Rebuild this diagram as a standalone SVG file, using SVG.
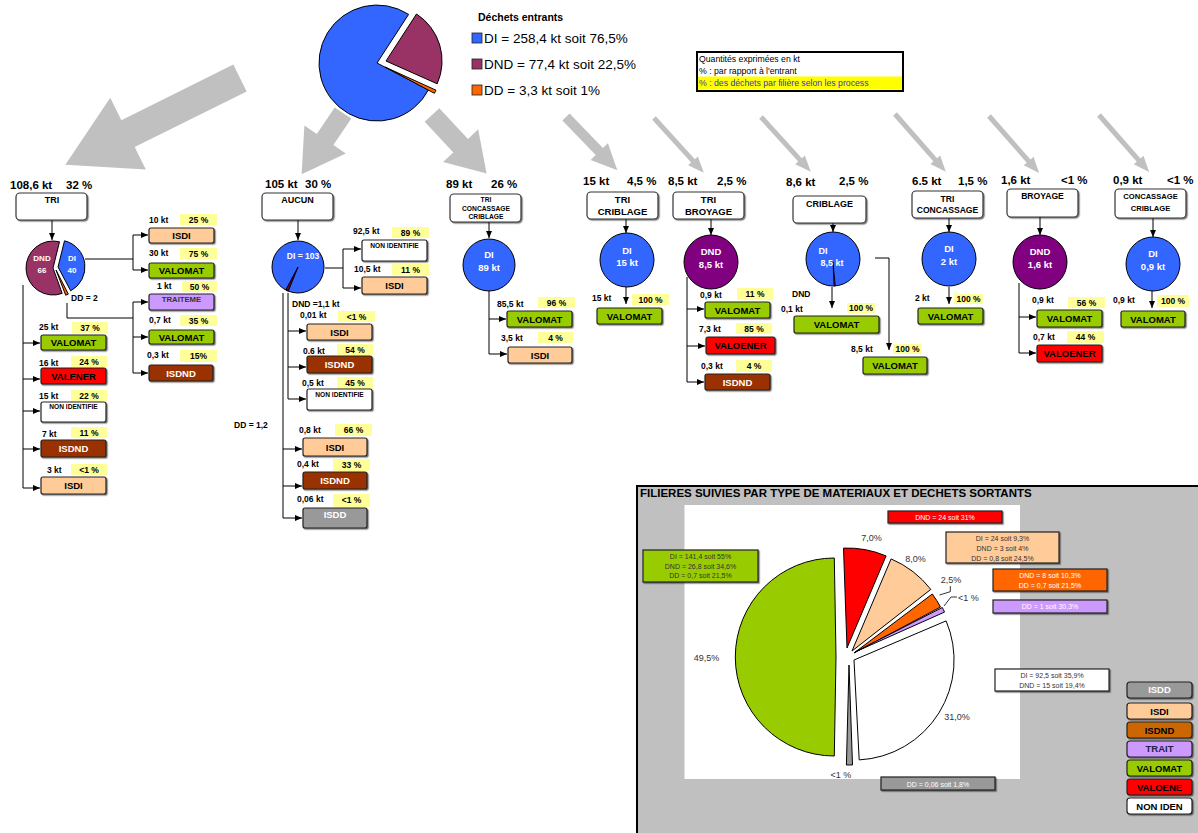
<svg xmlns="http://www.w3.org/2000/svg" width="1198" height="833" viewBox="0 0 1198 833">
<defs>
<filter id="sh" x="-10%" y="-10%" width="130%" height="150%"><feDropShadow dx="1.2" dy="1.2" stdDeviation="0.5" flood-color="#000" flood-opacity="0.5"/></filter>
<marker id="ah" markerWidth="7" markerHeight="6" refX="7" refY="3" orient="auto" markerUnits="userSpaceOnUse"><path d="M0,0 L7,3 L0,6 Z" fill="#000"/></marker>
<style>
text{font-family:"Liberation Sans",Arial,sans-serif}
.hd{font-size:11.5px;font-weight:bold}
.q{font-size:8.5px;font-weight:bold}
.pc{font-size:8.5px;font-weight:bold;text-anchor:middle}
.y{fill:#ffff99}
.bx{stroke:#222;stroke-width:1.2;filter:url(#sh)}
.pb{fill:#fff;stroke:#333;stroke-width:1.2;filter:url(#sh)}
.bt{font-size:9.5px;font-weight:bold;text-anchor:middle}
.st{font-size:6.6px;font-weight:bold;text-anchor:middle}
.w{fill:#fff}
.isdi{fill:#ffcc99}.valomat{fill:#99cc00}.valener{fill:#ff0000}.isdnd{fill:#993300}.trait{fill:#cc99ff}.isdd{fill:#999999}.nonid{fill:#ffffff}
.ct{font-weight:bold;text-anchor:middle;fill:#fff;font-size:9.5px}
.cn{stroke:#000;stroke-width:1;fill:none}
.ga{fill:#c0c0c0}
.sl{stroke:#000;stroke-width:1}
.cl{font-size:9px;fill:#333;text-anchor:middle}
.dl{font-size:7px;text-anchor:middle}
.lg{font-size:9.5px;font-weight:bold;text-anchor:middle}
</style>
</defs>
<rect width="1198" height="833" fill="#fff"/>

<!-- Top pie -->
<g id="pie-entrants">
<path d="M377,63 L428.4,89.9 A58,58 0 1 1 408.6,14.4 Z" fill="#3366ff" class="sl"/>
<path d="M386,61 L416.5,14 A56,56 0 0 1 437.2,83.8 Z" fill="#993366" class="sl"/>
<path d="M385,67 L436,90.2 A56,56 0 0 1 434.4,93.3 Z" fill="#ff6600" class="sl"/>
</g>
<g id="legend-entrants">
<text x="478" y="21" style="font-size:10.5px;font-weight:bold">Déchets entrants</text>
<rect x="472" y="33" width="10" height="10" fill="#3366ff" stroke="#222" stroke-width="0.8"/>
<text x="484" y="43" style="font-size:13.5px">DI = 258,4 kt soit 76,5%</text>
<rect x="472" y="59" width="10" height="10" fill="#993366" stroke="#222" stroke-width="0.8"/>
<text x="484" y="69" style="font-size:13.5px">DND = 77,4 kt soit 22,5%</text>
<rect x="472" y="85" width="10" height="10" fill="#ff6600" stroke="#222" stroke-width="0.8"/>
<text x="484" y="95" style="font-size:13.5px">DD = 3,3 kt soit 1%</text>
</g>
<g id="legend-units">
<rect x="697" y="52" width="206" height="39" fill="#fff" stroke="#000" stroke-width="2"/>
<rect x="698" y="76.5" width="204" height="13" fill="#ffff00"/>
<text x="699" y="62" style="font-size:8.7px">Quantités exprimées en kt</text>
<text x="699" y="74" style="font-size:8.7px">% : par rapport à l'entrant</text>
<text x="699" y="86" style="font-size:8.7px;fill:#3333cc">% : des déchets par filière selon les process</text>
</g>

<!-- Connectors -->
<g id="connectors">
<path class="ga" transform="translate(240,78) rotate(153.6)" d="M0,-15H125V-40L195,0L125,40V15H0Z"/>
<path class="ga" transform="translate(343,113) rotate(124)" d="M0,-10H32V-25L74,0L32,25V10H0Z"/>
<path class="ga" transform="translate(432,115) rotate(47)" d="M0,-10H42V-24L80,0L42,24V10H0Z"/>
<path class="ga" transform="translate(566,117) rotate(46.1)" d="M0,-5H48V-12L74,0L48,12V5H0Z"/>
<path class="ga" transform="translate(654,118) rotate(47.7)" d="M0,-2.5H58V-6.5L74,0L58,6.5V2.5H0Z"/>
<path class="ga" transform="translate(761,117) rotate(47.7)" d="M0,-2.5H58V-6.5L74,0L58,6.5V2.5H0Z"/>
<path class="ga" transform="translate(895,114) rotate(48.7)" d="M0,-2.5H61V-6.5L77,0L61,6.5V2.5H0Z"/>
<path class="ga" transform="translate(989,116) rotate(48.7)" d="M0,-2.5H60V-6.5L76,0L60,6.5V2.5H0Z"/>
<path class="ga" transform="translate(1099,115) rotate(48.7)" d="M0,-2.5H60V-6.5L76,0L60,6.5V2.5H0Z"/>

<!-- TRI -->
<path class="cn" d="M52,220 V240" marker-end="url(#ah)"/>
<path class="cn" d="M85,259 H133"/>
<path class="cn" d="M133,259 V235 H148" marker-end="url(#ah)"/>
<path class="cn" d="M133,259 V270 H148" marker-end="url(#ah)"/>
<path class="cn" d="M67,303 V318 H133"/>
<path class="cn" d="M133,318 V302 H148" marker-end="url(#ah)"/>
<path class="cn" d="M133,318 V337 H148" marker-end="url(#ah)"/>
<path class="cn" d="M133,337 V373 H148" marker-end="url(#ah)"/>
<path class="cn" d="M23,285 V343 H40" marker-end="url(#ah)"/>
<path class="cn" d="M23,343 V379 H40" marker-end="url(#ah)"/>
<path class="cn" d="M23,379 V411 H40" marker-end="url(#ah)"/>
<path class="cn" d="M23,411 V449 H40" marker-end="url(#ah)"/>
<path class="cn" d="M23,449 V488 H40" marker-end="url(#ah)"/>
<!-- AUCUN -->
<path class="cn" d="M298,220 V240" marker-end="url(#ah)"/>
<path class="cn" d="M325,268 H343"/>
<path class="cn" d="M343,268 V249 H361" marker-end="url(#ah)"/>
<path class="cn" d="M343,268 V288 H361" marker-end="url(#ah)"/>
<path class="cn" d="M288,293 V331 H306" marker-end="url(#ah)"/>
<path class="cn" d="M288,331 V367 H306" marker-end="url(#ah)"/>
<path class="cn" d="M288,367 V399 H306" marker-end="url(#ah)"/>
<path class="cn" d="M283,293 V449 H302" marker-end="url(#ah)"/>
<path class="cn" d="M283,449 V486 H302" marker-end="url(#ah)"/>
<path class="cn" d="M283,486 V518 H302" marker-end="url(#ah)"/>
<!-- TRI CONCASSAGE CRIBLAGE -->
<path class="cn" d="M489,222 V238" marker-end="url(#ah)"/>
<path class="cn" d="M489,291 V319 H506" marker-end="url(#ah)"/>
<path class="cn" d="M489,319 V354 H507" marker-end="url(#ah)"/>
<!-- TRI CRIBLAGE -->
<path class="cn" d="M626,219 V233" marker-end="url(#ah)"/>
<path class="cn" d="M626,287 V304" marker-end="url(#ah)"/>
<!-- TRI BROYAGE -->
<path class="cn" d="M711,219 V235" marker-end="url(#ah)"/>
<path class="cn" d="M687,277 V309 H704" marker-end="url(#ah)"/>
<path class="cn" d="M687,309 V346 H705" marker-end="url(#ah)"/>
<path class="cn" d="M687,346 V382 H704" marker-end="url(#ah)"/>
<!-- CRIBLAGE -->
<path class="cn" d="M833,223 V232" marker-end="url(#ah)"/>
<path class="cn" d="M832,287 V308" marker-end="url(#ah)"/>
<path class="cn" d="M875,258 H889 V350" marker-end="url(#ah)"/>
<!-- TRI CONCASSAGE -->
<path class="cn" d="M949,218 V232" marker-end="url(#ah)"/>
<path class="cn" d="M949,287 V304" marker-end="url(#ah)"/>
<!-- BROYAGE -->
<path class="cn" d="M1040,217 V235" marker-end="url(#ah)"/>
<path class="cn" d="M1019,283 V317 H1036" marker-end="url(#ah)"/>
<path class="cn" d="M1019,317 V353 H1036" marker-end="url(#ah)"/>
<!-- CONCASSAGE CRIBLAGE -->
<path class="cn" d="M1153,218 V237" marker-end="url(#ah)"/>
<path class="cn" d="M1152,291 V308" marker-end="url(#ah)"/>
</g>

<!-- TRI section -->
<g id="p-tri">
<text class="hd" x="10" y="189">108,6 kt</text><text class="hd" x="66" y="189">32 %</text>
<rect class="pb" x="16" y="193" width="71" height="27" rx="4"/>
<text x="52" y="203" style="font-size:9px;font-weight:bold;text-anchor:middle">TRI</text>
</g>
<g id="pie-tri">
<path d="M53,268 L62.2,293.4 A27,27 0 1 1 59.5,241.8 Z" fill="#993366" class="sl"/>
<path d="M58,267 L64.5,240.8 A27,27 0 0 1 70.7,290.8 Z" fill="#3366ff" class="sl"/>
<path d="M56,270 L68.3,294.1 A27,27 0 0 1 65.7,295.2 Z" fill="#ff6600" class="sl"/>
<text class="ct" x="42" y="261" style="font-size:8px">DND</text>
<text class="ct" x="42" y="273" style="font-size:8px">66</text>
<text class="ct" x="72" y="261" style="font-size:8px">DI</text>
<text class="ct" x="72" y="273" style="font-size:8px">40</text>
<text class="q" x="71" y="301">DD = 2</text>
</g>
<g id="tri-isdi1"><text class="q" x="149" y="223">10 kt</text><rect class="y" x="180" y="214" width="37" height="11"/><text class="pc" x="198.5" y="223">25 %</text><rect class="bx isdi" x="149" y="228" width="65" height="15" rx="2"/><text class="bt" x="181.5" y="239">ISDI</text></g>
<g id="tri-valomat1"><text class="q" x="149" y="256">30 kt</text><rect class="y" x="180" y="248" width="37" height="11"/><text class="pc" x="198.5" y="257">75 %</text><rect class="bx valomat" x="149" y="263" width="65" height="15" rx="2"/><text class="bt" x="181.5" y="274">VALOMAT</text></g>
<g id="tri-traiteme"><text class="q" x="157" y="289">1 kt</text><rect class="y" x="182" y="281" width="35" height="11"/><text class="pc" x="199.5" y="290">50 %</text><rect class="bx trait" x="149" y="294" width="65" height="16" rx="2"/><text x="181.5" y="302" style="font-size:7.7px;font-weight:bold;text-anchor:middle;fill:#333">TRAITEME</text></g>
<g id="tri-valomat2"><text class="q" x="149" y="323">0,7 kt</text><rect class="y" x="180" y="315" width="37" height="11"/><text class="pc" x="198.5" y="324">35 %</text><rect class="bx valomat" x="149" y="330" width="65" height="14" rx="2"/><text class="bt" x="181.5" y="341">VALOMAT</text></g>
<g id="tri-isdnd1"><text class="q" x="147" y="358">0,3 kt</text><rect class="y" x="180" y="350" width="37" height="12"/><text class="pc" x="198.5" y="359">15%</text><rect class="bx isdnd" x="149" y="365" width="64" height="16" rx="2"/><text class="bt w" x="181" y="377">ISDND</text></g>
<g id="tri-valomat3"><text class="q" x="39" y="330">25 kt</text><rect class="y" x="72" y="322" width="36" height="11"/><text class="pc" x="90" y="331">37 %</text><rect class="bx valomat" x="41" y="335" width="65" height="15" rx="2"/><text class="bt" x="73.5" y="346">VALOMAT</text></g>
<g id="tri-valener"><text class="q" x="39" y="366">16 kt</text><rect class="y" x="71" y="356" width="36" height="11"/><text class="pc" x="89" y="365">24 %</text><rect class="bx valener" x="41" y="368" width="65" height="16" rx="2"/><text class="bt" x="73.5" y="380">VALENER</text></g>
<g id="tri-nonid"><text class="q" x="39" y="399">15 kt</text><rect class="y" x="71" y="390" width="36" height="11"/><text class="pc" x="89" y="399">22 %</text><rect class="bx nonid" x="41" y="402" width="65" height="20" rx="2"/><text class="st" x="73.5" y="409">NON IDENTIFIE</text></g>
<g id="tri-isdnd2"><text class="q" x="42" y="437">7 kt</text><rect class="y" x="71" y="427" width="36" height="11"/><text class="pc" x="89" y="436">11 %</text><rect class="bx isdnd" x="41" y="440" width="65" height="17" rx="2"/><text class="bt w" x="73.5" y="452">ISDND</text></g>
<g id="tri-isdi2"><text class="q" x="47" y="473">3 kt</text><rect class="y" x="71" y="464" width="36" height="11"/><text class="pc" x="89" y="473">&lt;1 %</text><rect class="bx isdi" x="41" y="477" width="65" height="17" rx="2"/><text class="bt" x="73.5" y="489">ISDI</text></g>

<!-- AUCUN section -->
<g id="p-aucun">
<text class="hd" x="265" y="188">105 kt</text><text class="hd" x="305" y="188">30 %</text>
<rect class="pb" x="262" y="193" width="71" height="27" rx="4"/>
<text x="297.5" y="203" style="font-size:9px;font-weight:bold;text-anchor:middle">AUCUN</text>
</g>
<g id="pie-aucun">
<circle cx="298" cy="267" r="26" fill="#3366ff" class="sl"/>
<path d="M298,267 L288.3,291.1 A26,26 0 0 1 285.8,290 Z" fill="#660033" class="sl" stroke-width="0.8"/>
<text class="ct" x="303" y="259" style="font-size:8.5px">DI = 103</text>
</g>
<g id="auc-nonid1"><text class="q" x="353" y="234">92,5 kt</text><rect class="y" x="392" y="227" width="37" height="11"/><text class="pc" x="410.5" y="236">89 %</text><rect class="bx nonid" x="362" y="240" width="65" height="21" rx="2"/><text class="st" x="394.5" y="248">NON IDENTIFIE</text></g>
<g id="auc-isdi1"><text class="q" x="354" y="272">10,5 kt</text><rect class="y" x="392" y="264" width="37" height="11"/><text class="pc" x="410.5" y="273">11 %</text><rect class="bx isdi" x="362" y="277" width="65" height="17" rx="2"/><text class="bt" x="394.5" y="289">ISDI</text></g>
<g id="auc-dnd"><text class="q" x="292" y="307">DND =1,1 kt</text></g>
<g id="auc-isdi2"><text class="q" x="300" y="318">0,01 kt</text><rect class="y" x="338" y="311" width="37" height="11"/><text class="pc" x="356.5" y="320">&lt;1 %</text><rect class="bx isdi" x="307" y="324" width="65" height="16" rx="2"/><text class="bt" x="339.5" y="336">ISDI</text></g>
<g id="auc-isdnd1"><text class="q" x="303" y="354">0.6 kt</text><rect class="y" x="337" y="344" width="36" height="11"/><text class="pc" x="355" y="353">54 %</text><rect class="bx isdnd" x="307" y="356" width="65" height="17" rx="2"/><text class="bt w" x="339.5" y="368">ISDND</text></g>
<g id="auc-nonid2"><text class="q" x="302" y="386">0,5 kt</text><rect class="y" x="337" y="377" width="36" height="12"/><text class="pc" x="355" y="386">45 %</text><rect class="bx nonid" x="307" y="389" width="65" height="21" rx="2"/><text class="st" x="339.5" y="397">NON IDENTIFIE</text></g>
<g id="auc-dd"><text class="q" x="234" y="428">DD = 1,2</text></g>
<g id="auc-isdi3"><text class="q" x="299" y="433">0,8 kt</text><rect class="y" x="335" y="424" width="37" height="12"/><text class="pc" x="353.5" y="433">66 %</text><rect class="bx isdi" x="303" y="438" width="64" height="18" rx="2"/><text class="bt" x="335" y="451">ISDI</text></g>
<g id="auc-isdnd2"><text class="q" x="297" y="467">0,4 kt</text><rect class="y" x="333" y="459" width="37" height="12"/><text class="pc" x="351.5" y="468">33 %</text><rect class="bx isdnd" x="303" y="472" width="64" height="17" rx="2"/><text class="bt w" x="335" y="484">ISDND</text></g>
<g id="auc-isdd"><text class="q" x="297" y="502">0,06 kt</text><rect class="y" x="333" y="494" width="37" height="13"/><text class="pc" x="351.5" y="503">&lt;1 %</text><rect class="bx isdd" x="303" y="508" width="64" height="20" rx="2"/><text class="bt w" x="335" y="518">ISDD</text></g>

<!-- TRI CONCASSAGE CRIBLAGE -->
<g id="p-tcc">
<text class="hd" x="446" y="188">89 kt</text><text class="hd" x="491" y="188">26 %</text>
<rect class="pb" x="450" y="194" width="71" height="28" rx="4"/>
<text x="486" y="202" style="font-size:6.7px;font-weight:bold;text-anchor:middle">TRI</text>
<text x="486" y="210.5" style="font-size:6.7px;font-weight:bold;text-anchor:middle">CONCASSAGE</text>
<text x="486" y="219" style="font-size:6.7px;font-weight:bold;text-anchor:middle">CRIBLAGE</text>
</g>
<g id="c-tcc"><circle cx="489" cy="265" r="26" fill="#3366ff" class="sl"/><text class="ct" x="489" y="258">DI</text><text class="ct" x="489" y="271">89 kt</text></g>
<g id="tcc-valomat"><text class="q" x="497" y="307">85,5 kt</text><rect class="y" x="538" y="297" width="37" height="11"/><text class="pc" x="556.5" y="306">96 %</text><rect class="bx valomat" x="507" y="311" width="65" height="16" rx="2"/><text class="bt" x="539.5" y="323">VALOMAT</text></g>
<g id="tcc-isdi"><text class="q" x="501" y="341">3,5 kt</text><rect class="y" x="538" y="332" width="35" height="11"/><text class="pc" x="555.5" y="341">4 %</text><rect class="bx isdi" x="508" y="347" width="64" height="16" rx="2"/><text class="bt" x="540" y="359">ISDI</text></g>

<!-- TRI CRIBLAGE -->
<g id="p-tcrib">
<text class="hd" x="583" y="185">15 kt</text><text class="hd" x="627" y="185">4,5 %</text>
<rect class="pb" x="587" y="192" width="71" height="27" rx="4"/>
<text x="622.5" y="203" style="font-size:9.5px;font-weight:bold;text-anchor:middle">TRI</text>
<text x="622.5" y="215" style="font-size:9.5px;font-weight:bold;text-anchor:middle">CRIBLAGE</text>
</g>
<g id="c-tcrib"><circle cx="627" cy="260" r="27" fill="#3366ff" class="sl"/><text class="ct" x="627" y="254">DI</text><text class="ct" x="627" y="266">15 kt</text></g>
<g id="tcrib-valomat"><text class="q" x="592" y="301">15 kt</text><rect class="y" x="632" y="294" width="37" height="11"/><text class="pc" x="650.5" y="303">100 %</text><rect class="bx valomat" x="597" y="308" width="65" height="16" rx="2"/><text class="bt" x="629.5" y="320">VALOMAT</text></g>

<!-- TRI BROYAGE -->
<g id="p-tbroy">
<text class="hd" x="668" y="185">8,5 kt</text><text class="hd" x="717" y="185">2,5 %</text>
<rect class="pb" x="673" y="192" width="71" height="27" rx="4"/>
<text x="708.5" y="203" style="font-size:9.5px;font-weight:bold;text-anchor:middle">TRI</text>
<text x="708.5" y="215" style="font-size:9.5px;font-weight:bold;text-anchor:middle">BROYAGE</text>
</g>
<g id="c-tbroy"><circle cx="711" cy="262" r="27" fill="#800080" class="sl"/><text class="ct" x="711" y="255">DND</text><text class="ct" x="711" y="268">8,5 kt</text></g>
<g id="tbroy-valomat"><text class="q" x="700" y="298">0,9 kt</text><rect class="y" x="737" y="288" width="36" height="12"/><text class="pc" x="755" y="297">11 %</text><rect class="bx valomat" x="705" y="302" width="65" height="16" rx="2"/><text class="bt" x="737.5" y="314">VALOMAT</text></g>
<g id="tbroy-valoener"><text class="q" x="699" y="332">7,3 kt</text><rect class="y" x="736" y="323" width="36" height="11"/><text class="pc" x="754" y="332">85 %</text><rect class="bx valener" x="706" y="337" width="69" height="17" rx="2"/><text class="bt" x="740.5" y="349">VALOENER</text></g>
<g id="tbroy-isdnd"><text class="q" x="701" y="369">0,3 kt</text><rect class="y" x="736" y="360" width="36" height="12"/><text class="pc" x="754" y="369">4 %</text><rect class="bx isdnd" x="705" y="374" width="65" height="16" rx="2"/><text class="bt w" x="737.5" y="386">ISDND</text></g>

<!-- CRIBLAGE -->
<g id="p-crib">
<text class="hd" x="786" y="186">8,6 kt</text><text class="hd" x="839" y="185">2,5 %</text>
<rect class="pb" x="793" y="196" width="73" height="27" rx="4"/>
<text x="829.5" y="207" style="font-size:9px;font-weight:bold;text-anchor:middle">CRIBLAGE</text>
</g>
<g id="c-crib"><circle cx="833" cy="259" r="27" fill="#3366ff" class="sl"/><path d="M833,262 L835.3,286 L834,286 Z" fill="#660066" stroke="#000" stroke-width="0.8"/><text class="ct" x="823" y="254" style="font-size:9px">DI</text><text class="ct" x="832" y="266" style="font-size:9px">8,5 kt</text></g>
<g id="crib-valomat1"><text class="q" x="792" y="297">DND</text><text class="q" x="781" y="312">0,1 kt</text><rect class="y" x="847" y="303" width="28" height="10"/><text class="pc" x="861" y="311">100 %</text><rect class="bx valomat" x="794" y="316" width="85" height="17" rx="2"/><text class="bt" x="836.5" y="328">VALOMAT</text></g>
<g id="crib-valomat2"><text class="q" x="851" y="352">8,5 kt</text><rect class="y" x="893" y="344" width="29" height="10"/><text class="pc" x="907.5" y="352">100 %</text><rect class="bx valomat" x="863" y="357" width="64" height="17" rx="2"/><text class="bt" x="895" y="369">VALOMAT</text></g>

<!-- TRI CONCASSAGE -->
<g id="p-tconc">
<text class="hd" x="912" y="185">6.5 kt</text><text class="hd" x="958" y="185">1,5 %</text>
<rect class="pb" x="912" y="191" width="71" height="27" rx="4"/>
<text x="947.5" y="201.5" style="font-size:8.6px;font-weight:bold;text-anchor:middle">TRI</text>
<text x="947.5" y="213" style="font-size:8.6px;font-weight:bold;text-anchor:middle">CONCASSAGE</text>
</g>
<g id="c-tconc"><circle cx="949" cy="259" r="27" fill="#3366ff" class="sl"/><text class="ct" x="949" y="252">DI</text><text class="ct" x="949" y="265">2 kt</text></g>
<g id="tconc-valomat"><text class="q" x="915" y="301">2 kt</text><rect class="y" x="954" y="294" width="29" height="10"/><text class="pc" x="968.5" y="302">100 %</text><rect class="bx valomat" x="918" y="308" width="65" height="16" rx="2"/><text class="bt" x="950.5" y="320">VALOMAT</text></g>

<!-- BROYAGE -->
<g id="p-broy">
<text class="hd" x="1001" y="184">1,6 kt</text><text class="hd" x="1061" y="184">&lt;1 %</text>
<rect class="pb" x="1007" y="189" width="71" height="28" rx="4"/>
<text x="1042.5" y="199" style="font-size:8.6px;font-weight:bold;text-anchor:middle">BROYAGE</text>
</g>
<g id="c-broy"><circle cx="1040" cy="262" r="27" fill="#800080" class="sl"/><text class="ct" x="1040" y="255">DND</text><text class="ct" x="1040" y="268">1,6 kt</text></g>
<g id="broy-valomat"><text class="q" x="1032" y="303">0,9 kt</text><rect class="y" x="1068" y="297" width="37" height="11"/><text class="pc" x="1086.5" y="306">56 %</text><rect class="bx valomat" x="1037" y="310" width="65" height="17" rx="2"/><text class="bt" x="1069.5" y="322">VALOMAT</text></g>
<g id="broy-valoener"><text class="q" x="1033" y="340">0,7 kt</text><rect class="y" x="1067" y="331" width="37" height="12"/><text class="pc" x="1085.5" y="340">44 %</text><rect class="bx valener" x="1037" y="345" width="65" height="17" rx="2"/><text class="bt" x="1069.5" y="357">VALOENER</text></g>

<!-- CONCASSAGE CRIBLAGE -->
<g id="p-cc">
<text class="hd" x="1113" y="184">0,9 kt</text><text class="hd" x="1167" y="184">&lt;1 %</text>
<rect class="pb" x="1115" y="189" width="71" height="29" rx="4"/>
<text x="1150.5" y="199" style="font-size:7.6px;font-weight:bold;text-anchor:middle">CONCASSAGE</text>
<text x="1150.5" y="211" style="font-size:7.6px;font-weight:bold;text-anchor:middle">CRIBLAGE</text>
</g>
<g id="c-cc"><circle cx="1153" cy="264" r="27" fill="#3366ff" class="sl"/><text class="ct" x="1153" y="257">DI</text><text class="ct" x="1153" y="270">0,9 kt</text></g>
<g id="cc-valomat"><text class="q" x="1113" y="303">0,9 kt</text><rect class="y" x="1157" y="295" width="32" height="12"/><text class="pc" x="1173" y="304">100 %</text><rect class="bx valomat" x="1121" y="311" width="64" height="16" rx="2"/><text class="bt" x="1153" y="323">VALOMAT</text></g>

<!-- Bottom chart -->
<g id="chart">
<rect x="637" y="486" width="575" height="360" fill="#c0c0c0" stroke="#000" stroke-width="2"/>
<text x="640" y="497" style="font-size:11.5px;font-weight:bold">FILIERES SUIVIES PAR TYPE DE MATERIAUX ET DECHETS SORTANTS</text>
<rect x="684.5" y="505" width="335.5" height="274" fill="#fff"/>
<path d="M836,657 L834.3,756 A99,99 0 0 1 834.3,558 Z" fill="#99cc00" class="sl"/>
<path d="M847,648 L843.5,548.1 A100,100 0 0 1 886.1,555.9 Z" fill="#ff0000" class="sl"/>
<path d="M852,651 L891.1,558.9 A100,100 0 0 1 930.8,589.4 Z" fill="#ffcc99" class="sl"/>
<path d="M854,653 L932.3,594 A98,98 0 0 1 940.5,607 Z" fill="#ff6600" class="sl"/>
<path d="M855,652 L942.3,607.5 A98,98 0 0 1 944.5,612.1 Z" fill="#cc99ff" class="sl"/>
<path d="M854,660 L946.1,620.9 A100,100 0 0 1 859.2,759.9 Z" fill="#ffffff" class="sl"/>
<path d="M849,665 L852.5,764.9 A100,100 0 0 1 846.4,765 Z" fill="#999999" class="sl"/>
<text class="cl" x="871.5" y="541">7,0%</text>
<text class="cl" x="915.5" y="562">8,0%</text>
<text class="cl" x="951" y="583">2,5%</text>
<polyline points="950.3,586 950.3,591.7 939.5,595" fill="none" stroke="#000" stroke-width="0.8"/>
<text x="958" y="601" style="font-size:9px;fill:#333">&lt;1 %</text>
<polyline points="957,597 951,597 944,606" fill="none" stroke="#000" stroke-width="0.8"/>
<text class="cl" x="706.5" y="661">49,5%</text>
<text class="cl" x="957" y="720">31,0%</text>
<text class="cl" x="841" y="778">&lt;1 %</text>
<g id="lab-valoene"><rect x="888" y="511" width="114" height="12" fill="#ff0000" class="bx"/><text class="dl w" x="945" y="520">DND = 24 soit 31%</text></g>
<g id="lab-isdi"><rect x="946" y="532" width="113" height="31" fill="#ffcc99" class="bx"/><text class="dl" x="1002.5" y="541" fill="#333">DI = 24 soit 9,3%</text><text class="dl" x="1002.5" y="551" fill="#333">DND = 3 soit 4%</text><text class="dl" x="1002.5" y="561" fill="#333">DD = 0,8 soit 24,5%</text></g>
<g id="lab-isdnd"><rect x="993" y="569" width="114" height="22" fill="#ff6600" class="bx"/><text class="dl w" x="1050" y="578">DND = 8 soit 10,3%</text><text class="dl w" x="1050" y="588">DD = 0,7 soit 21,5%</text></g>
<g id="lab-trait"><rect x="993" y="600" width="114" height="13" fill="#cc99ff" class="bx"/><text class="dl w" x="1050" y="609">DD = 1 soit 30,3%</text></g>
<g id="lab-nonid"><rect x="995" y="669" width="114" height="22" fill="#ffffff" class="bx"/><text class="dl" x="1052" y="677.5" fill="#333">DI = 92,5 soit 35,9%</text><text class="dl" x="1052" y="687.5" fill="#333">DND = 15 soit 19,4%</text></g>
<g id="lab-valomat"><rect x="643" y="550" width="115" height="32" fill="#99cc00" class="bx"/><text class="dl" x="700.5" y="559" fill="#333">DI = 141,4 soit 55%</text><text class="dl" x="700.5" y="568.5" fill="#333">DND = 26,8 soit 34,6%</text><text class="dl" x="700.5" y="578" fill="#333">DD = 0,7 soit 21,5%</text></g>
<g id="lab-isdd"><rect x="881" y="777" width="114" height="13" fill="#999999" class="bx"/><text class="dl w" x="938" y="786.5">DD = 0,06 soit 1,8%</text></g>
<g id="legend-filieres">
<rect class="bx" x="1127" y="682" width="65" height="16" rx="3" fill="#999999"/><text class="lg w" x="1159.5" y="693">ISDD</text>
<rect class="bx" x="1127" y="703" width="65" height="16" rx="3" fill="#ffcc99"/><text class="lg" x="1159.5" y="714.5">ISDI</text>
<rect class="bx" x="1127" y="722" width="65" height="16" rx="3" fill="#cc6600"/><text class="lg" x="1159.5" y="733.5">ISDND</text>
<rect class="bx" x="1127" y="741" width="65" height="16" rx="3" fill="#cc99ff"/><text class="lg" x="1159.5" y="752" fill="#222244">TRAIT</text>
<rect class="bx" x="1127" y="760" width="65" height="16" rx="3" fill="#99cc00"/><text class="lg" x="1159.5" y="771.5">VALOMAT</text>
<rect class="bx" x="1127" y="779" width="65" height="16" rx="3" fill="#ff0000"/><text class="lg" x="1159.5" y="790.5">VALOENE</text>
<rect class="bx" x="1127" y="798" width="65" height="16" rx="3" fill="#ffffff"/><text class="lg" x="1159.5" y="809.5">NON IDEN</text>
</g>
</g>
</svg>
